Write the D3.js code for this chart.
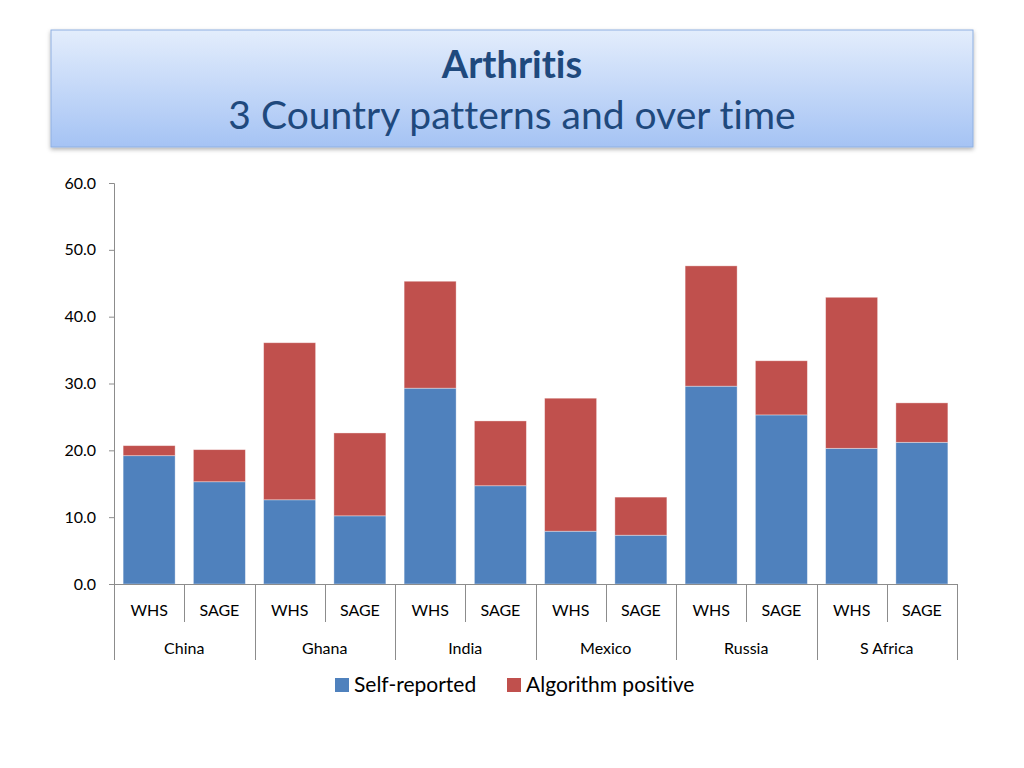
<!DOCTYPE html>
<html>
<head>
<meta charset="utf-8">
<script src="https://cdn.jsdelivr.net/npm/d3@7"></script>
<style>
  body { margin: 0; background: #fff; }
  text { font-family: Lato, "Open Sans", sans-serif; font-variant-ligatures: none; }
</style>
</head>
<body>
<svg id="chart" width="1024" height="768"></svg>
<script>
// chart values
var countries = ["China", "Ghana", "India", "Mexico", "Russia", "S Africa"];
var surveys = ["WHS", "SAGE"];
var selfReported = [19.2, 15.3, 12.6, 10.2, 29.3, 14.7, 7.9, 7.3, 29.6, 25.3, 20.3, 21.2];
var algorithmPositive = [1.5, 4.8, 23.5, 12.4, 16.0, 9.7, 19.9, 5.7, 18.0, 8.1, 22.6, 5.9];
var seriesNames = ["Self-reported", "Algorithm positive"];
var colors = ["#4f81bd", "#c0504d"];
var yTicks = [0, 10, 20, 30, 40, 50, 60];

var width = 1024,
    height = 768;

var plotLeft = 114, plotRight = 957, plotTop = 183, plotBottom = 584;

var svg = d3.select("svg#chart");

// title box
var defs = svg.append("defs");
var grad = defs.append("linearGradient")
    .attr("id", "titleGrad")
    .attr("x1", 0).attr("y1", 0).attr("x2", 0).attr("y2", 1);
grad.append("stop").attr("offset", "0%").attr("stop-color", "#e3edfc");
grad.append("stop").attr("offset", "100%").attr("stop-color", "#a5c3f4");

var shadow = defs.append("filter").attr("id", "shadow")
    .attr("x", "-5%").attr("y", "-10%").attr("width", "110%").attr("height", "130%");
shadow.append("feDropShadow")
    .attr("dx", 0).attr("dy", 2).attr("stdDeviation", 2)
    .attr("flood-color", "#000").attr("flood-opacity", 0.3);

svg.append("rect")
    .attr("x", 51).attr("y", 30)
    .attr("width", 922).attr("height", 117)
    .attr("fill", "url(#titleGrad)")
    .attr("stroke", "#8fb0e2")
    .attr("stroke-width", 1)
    .attr("filter", "url(#shadow)");

svg.append("text")
    .attr("x", 512).attr("y", 78)
    .attr("text-anchor", "middle")
    .attr("font-size", 38)
    .attr("font-weight", "bold")
    .attr("fill", "#1f497d")
    .text("Arthritis");

svg.append("text")
    .attr("x", 512).attr("y", 129)
    .attr("text-anchor", "middle")
    .attr("font-size", 39)
    .attr("fill", "#1f497d")
    .text("3 Country patterns and over time");

// data rows
var labels = [];
countries.forEach(function(c){
    surveys.forEach(function(s){ labels.push(c + "|" + s); });
});

var data = labels.map(function(k, i){
    return { key: k, self: selfReported[i], algo: algorithmPositive[i] };
});

var x = d3.scaleBand()
    .domain(labels)
    .range([plotLeft, plotRight])
    .paddingInner(0.26)
    .paddingOuter(0.13);

var y = d3.scaleLinear()
    .domain([0, 60])
    .range([plotBottom, plotTop]);

var stack = d3.stack().keys(["self", "algo"]);
var layers = stack(data);

// y axis
var yAxis = svg.append("g")
    .attr("transform", "translate(" + plotLeft + ",0)")
    .call(d3.axisLeft(y).tickValues(yTicks).tickSize(5).tickPadding(13)
        .tickFormat(function(d){ return d3.format(".1f")(d); }));
yAxis.selectAll("path, line").attr("stroke", "#8c8c8c");
yAxis.selectAll("text")
    .attr("font-size", 16)
    .attr("fill", "#000");

// bars
svg.selectAll("g.layer")
    .data(layers)
    .enter()
    .append("g")
    .attr("class", "layer")
    .attr("fill", function(d, i){ return colors[i]; })
    .selectAll("rect")
    .data(function(d){ return d; })
    .enter()
    .append("rect")
    .attr("x", function(d){ return x(d.data.key); })
    .attr("y", function(d){ return y(d[1]); })
    .attr("width", x.bandwidth())
    .attr("height", function(d){ return y(d[0]) - y(d[1]); })
    .attr("stroke", "rgba(255,255,255,0.45)")
    .attr("stroke-width", 0.8);

// x axis line and dividers
var step = x.step();
var axisG = svg.append("g").attr("stroke", "#8c8c8c").attr("stroke-width", 1);
axisG.append("line")
    .attr("x1", plotLeft).attr("x2", plotRight)
    .attr("y1", plotBottom + 0.5).attr("y2", plotBottom + 0.5);

d3.range(labels.length + 1).forEach(function(i){
    var xx = Math.round(plotLeft + i * step) + 0.5;
    axisG.append("line")
        .attr("x1", xx).attr("x2", xx)
        .attr("y1", plotBottom)
        .attr("y2", i % 2 === 0 ? 660 : 622);
});

// survey labels
svg.selectAll("text.survey")
    .data(data)
    .enter()
    .append("text")
    .attr("class", "survey")
    .attr("x", function(d){ return x(d.key) + x.bandwidth() / 2; })
    .attr("y", 616)
    .attr("text-anchor", "middle")
    .attr("font-size", 16)
    .text(function(d){ return d.key.split("|")[1]; });

// country labels
svg.selectAll("text.country")
    .data(countries)
    .enter()
    .append("text")
    .attr("class", "country")
    .attr("x", function(d, i){ return plotLeft + (i * 2 + 1) * step; })
    .attr("y", 654)
    .attr("text-anchor", "middle")
    .attr("font-size", 16)
    .text(function(d){ return d; });

// legend
var legendX = [335, 507];
var legend = svg.selectAll("g.legend")
    .data(seriesNames)
    .enter()
    .append("g")
    .attr("class", "legend")
    .attr("transform", function(d, i){ return "translate(" + legendX[i] + ",678)"; });

legend.append("rect")
    .attr("width", 14)
    .attr("height", 14)
    .attr("fill", function(d, i){ return colors[i]; });

legend.append("text")
    .attr("x", 19)
    .attr("y", 14)
    .attr("font-size", 21)
    .text(function(d){ return d; });
</script>
</body>
</html>
